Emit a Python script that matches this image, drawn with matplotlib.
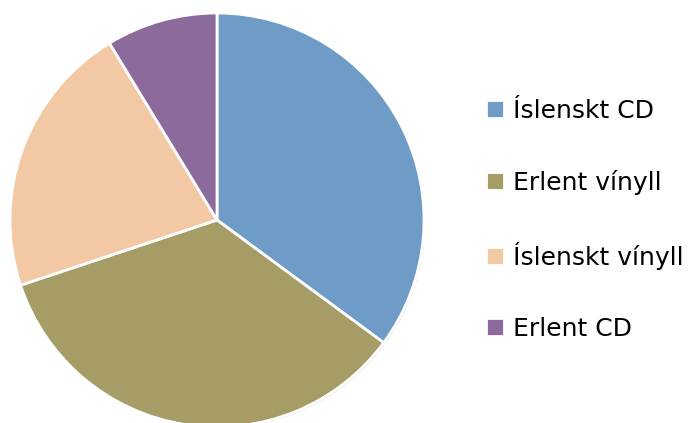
import matplotlib
matplotlib.use('Agg')
import matplotlib.pyplot as plt
from matplotlib.patches import Circle

labels = ['Íslenskt CD', 'Erlent vínyll', 'Íslenskt vínyll', 'Erlent CD']
values = [35.1, 34.8, 21.4, 8.7]
colors = ['#6F9CC7', '#A69C66', '#F2C9A4', '#8C6A9C']

plt.rcParams['font.family'] = ['DejaVu Sans']

W, H = 688, 423
fig = plt.figure(figsize=(W / 100, H / 100), dpi=100)
fig.set_facecolor('white')

# pie placed by pixel center / radius
cx, cy, r = 217, 220, 207
ax = fig.add_axes([(cx - r) / W, (H - cy - r) / H, 2 * r / W, 2 * r / H])
# faint shadow ring like the original
ax.add_patch(Circle((0.006, -0.006), 1.0, facecolor='#d8d8d8', edgecolor='none', zorder=0))
wedges, _ = ax.pie(values, colors=colors, startangle=90, counterclock=False,
                   wedgeprops=dict(edgecolor='white', linewidth=2))
ax.set_xlim(-1.0, 1.0)
ax.set_ylim(-1.0, 1.0)
ax.set_aspect('equal')
ax.axis('off')

fig.legend(wedges, labels, loc='center left',
           bbox_to_anchor=(486 / W, 1 - 220 / H), frameon=False,
           fontsize=18, labelspacing=1.88, handlelength=0.72, handleheight=0.72,
           handletextpad=0.36, borderpad=0, borderaxespad=0)

plt.savefig('out.png', dpi=100, facecolor='white')
plt.close()
